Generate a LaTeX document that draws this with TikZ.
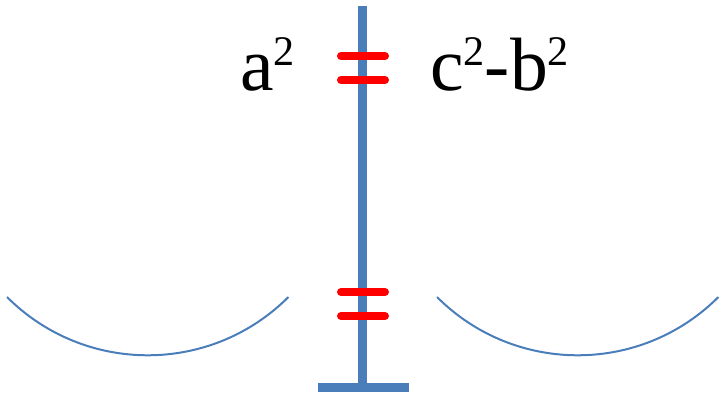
\documentclass[tikz,border=0pt]{standalone}
\usepackage{fontspec}
\setmainfont{Liberation Serif}
\definecolor{poleblue}{HTML}{4A7EBB}
\newcommand{\hochzwei}{\raisebox{14pt}{\fontsize{24}{26}\selectfont 2}}

\begin{document}
\begin{tikzpicture}[x=0.02cm, y=0.02cm,
    pole/.style={line width=0.18cm, poleblue},
    bar/.style={line width=0.16cm, red, line cap=round},
    bowl/.style={line width=0.04cm, poleblue},
    term/.style={inner sep=0pt, font=\fontsize{43}{50}\selectfont}]
    \useasboundingbox (0,0) rectangle (724,400);
    % Mast und Fuss
    \draw[pole] (362,394) -- (362,13);
    \fill[poleblue] (318,17) rectangle (409,8);
    % Gleichheitszeichen oben und unten
    \draw[bar] (341,344) -- (385,344);
    \draw[bar] (341,320) -- (385,320);
    \draw[bar] (341,108) -- (385,108);
    \draw[bar] (341,84) -- (385,84);
    % die zwei Schalen
    \draw[bowl] (7,103) arc[start angle=225, end angle=315, radius=199];
    \draw[bowl] (437,103) arc[start angle=225, end angle=315, radius=199];
    % Terme
    \node[term, anchor=base east] (lhs) at (295,310) {a\hochzwei};
    \node[term, anchor=base west] (rhs) at (430,310) {c\hochzwei-b\hochzwei};
\end{tikzpicture}
\end{document}
